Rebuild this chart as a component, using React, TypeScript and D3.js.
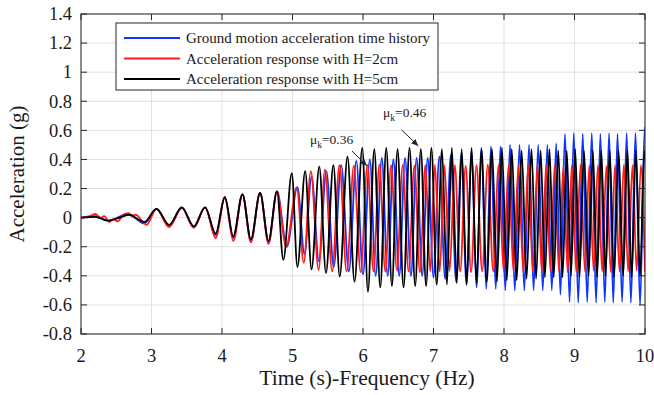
import React from "react";
import * as d3 from "d3";

// ---------- data ----------
const xTicks = [2, 3, 4, 5, 6, 7, 8, 9, 10];
const xTickLabels = ["2", "3", "4", "5", "6", "7", "8", "9", "10"];
const yTicks = [-0.8, -0.6, -0.4, -0.2, 0, 0.2, 0.4, 0.6, 0.8, 1, 1.2, 1.4];
const yTickLabels = ["-0.8", "-0.6", "-0.4", "-0.2", "0", "0.2", "0.4", "0.6", "0.8", "1", "1.2", "1.4"];

const seriesNames = [
  "Ground motion acceleration time history",
  "Acceleration response with H=2cm",
  "Acceleration response with H=5cm",
];
const seriesColors = ["#1034ff", "#ff1a1a", "#000000"];

// extrema of each trace: [time (s), acceleration (g)]
const groundPts: [number, number][] = [
  [2.0, 0], [2.2, 0.01], [2.38, -0.02], [2.67, 0.025], [2.9, -0.04], [3.07, 0.06], [3.25, -0.055],
  [3.43, 0.07], [3.6, -0.065], [3.76, 0.07], [3.91, -0.12], [4.04, 0.14], [4.16, -0.14], [4.29, 0.16],
  [4.41, -0.16], [4.54, 0.17], [4.66, -0.17], [4.78, 0.18], [4.92, -0.2], [5.07, 0.21], [5.17, -0.25],
  [5.27, 0.28], [5.375, -0.3], [5.48, 0.32], [5.585, -0.34], [5.69, 0.36], [5.8, -0.37], [5.905, 0.39],
  [6.0, -0.39], [6.097, 0.4], [6.18, -0.4], [6.267, 0.41], [6.35, -0.4], [6.431, 0.4], [6.514, -0.4],
  [6.597, 0.41], [6.68, -0.4], [6.761, 0.41], [6.84, -0.4], [6.918, 0.41], [7.0, -0.41], [7.083, 0.42],
  [7.165, -0.42], [7.246, 0.43], [7.32, -0.44], [7.395, 0.44], [7.468, -0.46], [7.54, 0.46], [7.61, -0.48],
  [7.68, 0.48], [7.748, -0.49], [7.815, 0.49], [7.883, -0.49], [7.95, 0.49], [8.018, -0.5], [8.085, 0.5],
  [8.153, -0.5], [8.22, 0.5], [8.288, -0.5], [8.355, 0.5], [8.42, -0.5], [8.485, 0.5], [8.55, -0.5],
  [8.615, 0.5], [8.678, -0.5], [8.74, 0.51], [8.8, -0.53], [8.865, 0.575], [8.93, -0.58], [8.99, 0.58],
  [9.053, -0.585], [9.117, 0.575], [9.18, -0.58], [9.245, 0.58], [9.306, -0.585], [9.367, 0.575],
  [9.43, -0.58], [9.49, 0.58], [9.55, -0.585], [9.61, 0.575], [9.675, -0.58], [9.74, 0.58], [9.8, -0.585],
  [9.865, 0.58], [9.93, -0.6], [9.995, 0.62], [10.06, -0.6],
];

const h2Pts: [number, number][] = [
  [2.0, 0], [2.1, 0.005], [2.2, 0.025], [2.28, 0.0], [2.33, 0.01], [2.4, -0.03], [2.46, -0.01],
  [2.52, -0.025], [2.6, 0.02], [2.67, 0.03], [2.72, 0.015], [2.78, 0.02], [2.86, -0.02], [2.93, -0.05],
  [3.07, 0.06], [3.25, -0.065], [3.43, 0.065], [3.6, -0.07], [3.76, 0.07], [3.91, -0.14], [4.04, 0.14],
  [4.16, -0.16], [4.29, 0.16], [4.41, -0.17], [4.54, 0.17], [4.66, -0.18], [4.78, 0.18], [4.91, -0.2],
  [5.06, 0.21], [5.16, -0.31], [5.26, 0.32], [5.37, -0.36], [5.46, 0.33], [5.563, -0.37], [5.666, 0.36],
  [5.768, -0.37], [5.87, 0.355], [5.967, -0.375], [6.063, 0.36], [6.148, -0.37], [6.233, 0.365],
  [6.316, -0.37], [6.399, 0.36], [6.481, -0.365], [6.563, 0.36], [6.646, -0.37], [6.729, 0.355],
  [6.807, -0.375], [6.885, 0.36], [6.953, -0.37], [7.02, 0.365], [7.088, -0.37], [7.155, 0.36],
  [7.229, -0.365], [7.302, 0.36], [7.379, -0.37], [7.456, 0.355], [7.533, -0.375], [7.61, 0.36],
  [7.69, -0.37], [7.77, 0.365], [7.847, -0.37], [7.924, 0.36], [7.994, -0.365], [8.064, 0.36],
  [8.134, -0.37], [8.204, 0.355], [8.274, -0.375], [8.344, 0.36], [8.409, -0.37], [8.4745, 0.365],
  [8.536, -0.37], [8.5975, 0.36], [8.658, -0.365], [8.7185, 0.36], [8.78, -0.37], [8.842, 0.355],
  [8.902, -0.375], [8.962, 0.36], [9.024, -0.37], [9.085, 0.365], [9.148, -0.37], [9.21, 0.36],
  [9.271, -0.365], [9.332, 0.36], [9.392, -0.37], [9.452, 0.355], [9.514, -0.375], [9.575, 0.36],
  [9.638, -0.37], [9.7, 0.365], [9.761, -0.37], [9.822, 0.36], [9.882, -0.365], [9.942, 0.36],
  [10.0, -0.37],
];

const h5Pts: [number, number][] = [
  [2.0, 0], [2.2, 0.005], [2.38, -0.02], [2.55, 0.0], [2.67, 0.02], [2.9, -0.03], [3.07, 0.06],
  [3.25, -0.05], [3.43, 0.07], [3.6, -0.06], [3.76, 0.07], [3.91, -0.11], [4.04, 0.14], [4.16, -0.13],
  [4.29, 0.16], [4.41, -0.15], [4.54, 0.17], [4.66, -0.16], [4.78, 0.18], [4.87, -0.29], [4.99, 0.305],
  [5.07, -0.34], [5.18, 0.32], [5.27, -0.355], [5.38, 0.35], [5.475, -0.38], [5.58, 0.36], [5.67, -0.405],
  [5.78, 0.42], [5.88, -0.44], [5.99, 0.48], [6.07, -0.51], [6.16, 0.47], [6.245, -0.48], [6.33, 0.48],
  [6.41, -0.47], [6.49, 0.47], [6.575, -0.48], [6.66, 0.48], [6.74, -0.47], [6.82, 0.47], [6.895, -0.47],
  [6.97, 0.48], [7.045, -0.46], [7.12, 0.47], [7.19, -0.46], [7.26, 0.48], [7.33, -0.45], [7.4, 0.47],
  [7.47, -0.46], [7.54, 0.48], [7.61, -0.45], [7.68, 0.47], [7.755, -0.44], [7.83, 0.47], [7.9, -0.44],
  [7.97, 0.48], [8.04, -0.43], [8.11, 0.47], [8.18, -0.43], [8.25, 0.46], [8.32, -0.42], [8.39, 0.47],
  [8.455, -0.42], [8.52, 0.46], [8.58, -0.41], [8.645, 0.47], [8.705, -0.41], [8.77, 0.46], [8.83, -0.41],
  [8.89, 0.46], [8.95, -0.4], [9.01, 0.47], [9.07, -0.41], [9.135, 0.46], [9.2, -0.4], [9.26, 0.46],
  [9.32, -0.41], [9.38, 0.46], [9.44, -0.4], [9.5, 0.46], [9.56, -0.41], [9.625, 0.46], [9.69, -0.4],
  [9.75, 0.46], [9.81, -0.41], [9.87, 0.46], [9.93, -0.4], [9.99, 0.46], [10.05, -0.41],
];

// annotations: label anchor and arrow (data units)
const annLabels = ["0.36", "0.46"];
const annText: [number, number][] = [[5.248, 0.506], [6.284, 0.692]];
const annArrowFrom: [number, number][] = [[5.844, 0.458], [6.548, 0.603]];
const annArrowTo: [number, number][] = [[6.057, 0.355], [6.784, 0.493]];

// ---------- chart ----------
const W = 654;
const H = 395;
const FONT = "'Liberation Serif', 'Times New Roman', Times, serif";

export default function App() {
  const x = d3.scaleLinear().domain([2, 10]).range([81, 645]);
  const y = d3.scaleLinear().domain([-0.8, 1.4]).range([334, 14]);
  const [x0, x1] = x.range();
  const [y0, y1] = y.range();

  const line = d3
    .line<[number, number]>()
    .x((d) => x(d[0]))
    .y((d) => y(d[1]))
    .curve(d3.curveMonotoneX);

  const series = [groundPts, h2Pts, h5Pts];
  const tickLen = 6;
  const axisColor = "#262626";
  const gridColor = "#e0e0e0";

  return (
    <svg
      width={W}
      height={H}
      viewBox={`0 0 ${W} ${H}`}
      style={{ position: "absolute", left: 0, top: 0, background: "#fff" }}
      fontFamily={FONT}
    >
      <defs>
        <clipPath id="plotClip">
          <rect x={x0} y={y1} width={x1 - x0} height={y0 - y1} />
        </clipPath>
        <marker
          id="arrowHead"
          markerUnits="userSpaceOnUse"
          markerWidth={8}
          markerHeight={6}
          refX={7}
          refY={3}
          orient="auto"
        >
          <path d="M0,0 L7,3 L0,6 Z" fill="#222" />
        </marker>
      </defs>

      <rect x={0} y={0} width={W} height={H} fill="#fff" />

      {/* grid */}
      <g stroke={gridColor} strokeWidth={1}>
        {xTicks.map((t) => (
          <line key={"gx" + t} x1={x(t)} x2={x(t)} y1={y1} y2={y0} />
        ))}
        {yTicks.map((t) => (
          <line key={"gy" + t} x1={x0} x2={x1} y1={y(t)} y2={y(t)} />
        ))}
      </g>

      {/* data */}
      <g clipPath="url(#plotClip)" fill="none" strokeWidth={1.8} strokeLinejoin="round">
        {series.map((pts, i) => (
          <path key={i} d={line(pts) || ""} stroke={seriesColors[i]} />
        ))}
      </g>

      {/* axes box + ticks */}
      <g stroke={axisColor} strokeWidth={1} fill="none">
        <rect x={x0} y={y1} width={x1 - x0} height={y0 - y1} />
        {xTicks.map((t) => (
          <g key={"tx" + t}>
            <line x1={x(t)} x2={x(t)} y1={y0} y2={y0 - tickLen} />
            <line x1={x(t)} x2={x(t)} y1={y1} y2={y1 + tickLen} />
          </g>
        ))}
        {yTicks.map((t) => (
          <g key={"ty" + t}>
            <line x1={x0} x2={x0 + tickLen} y1={y(t)} y2={y(t)} />
            <line x1={x1} x2={x1 - tickLen} y1={y(t)} y2={y(t)} />
          </g>
        ))}
      </g>

      {/* tick labels */}
      <g fontSize={18.5} fill="#1a1a1a">
        {xTicks.map((t, i) => (
          <text key={"lx" + t} x={x(t)} y={362} textAnchor="middle">
            {xTickLabels[i]}
          </text>
        ))}
        {yTicks.map((t, i) => (
          <text key={"ly" + t} x={72} y={y(t) + 6.3} textAnchor="end">
            {yTickLabels[i]}
          </text>
        ))}
      </g>

      {/* axis titles */}
      <text x={(x0 + x1) / 2 + 4} y={385} textAnchor="middle" fontSize={21.5} fill="#1a1a1a">
        Time (s)-Frequency (Hz)
      </text>
      <text
        transform={`translate(24,${(y0 + y1) / 2}) rotate(-90)`}
        textAnchor="middle"
        fontSize={21}
        fill="#1a1a1a"
      >
        Acceleration (g)
      </text>

      {/* legend */}
      <g>
        <rect x={116} y={23} width={322} height={67} fill="#fff" stroke={axisColor} strokeWidth={1} />
        {seriesNames.map((name, i) => {
          const ly = 38 + i * 20.5;
          return (
            <g key={name}>
              <line x1={124} x2={180} y1={ly} y2={ly} stroke={seriesColors[i]} strokeWidth={1.8} />
              <text x={186} y={ly + 5} fontSize={15} fill="#1a1a1a">
                {name}
              </text>
            </g>
          );
        })}
      </g>

      {/* annotations */}
      {annLabels.map((lab, i) => (
        <g key={"ann" + i}>
          <text x={x(annText[i][0])} y={y(annText[i][1])} fontSize={13.5} fill="#1a1a1a">
            μ
            <tspan dy={4} fontSize={9.5}>
              k
            </tspan>
            <tspan dy={-4}>={lab}</tspan>
          </text>
          <line
            x1={x(annArrowFrom[i][0])}
            y1={y(annArrowFrom[i][1])}
            x2={x(annArrowTo[i][0])}
            y2={y(annArrowTo[i][1])}
            stroke="#222"
            strokeWidth={1}
            markerEnd="url(#arrowHead)"
          />
        </g>
      ))}
    </svg>
  );
}
